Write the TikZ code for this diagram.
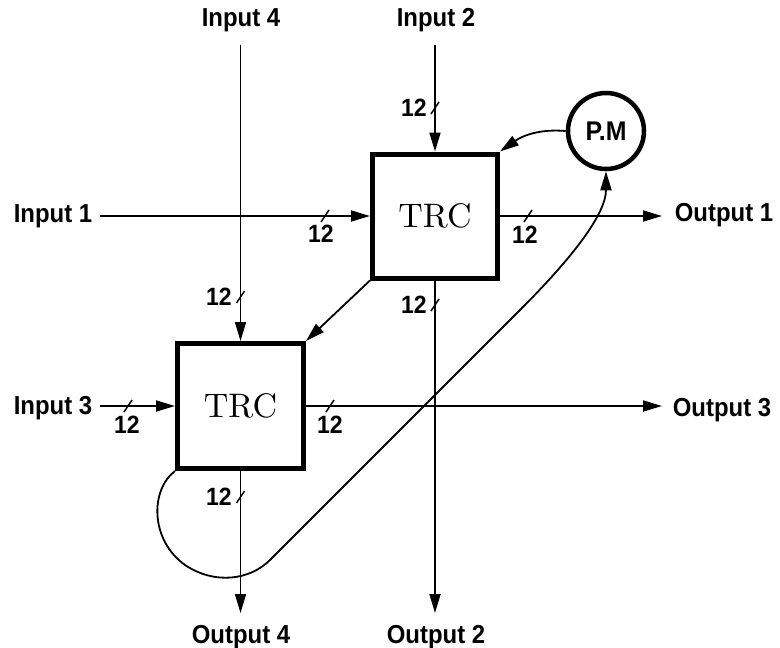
\documentclass[tikz,border=0pt]{standalone}
\usepackage{fontspec}
\newfontfamily\labfont[FakeStretch=0.92]{Liberation Sans}
\newfontfamily\trcfont{lmroman10-regular.otf}
\usetikzlibrary{arrows.meta}
\begin{document}
\begin{tikzpicture}[x=1pt,y=-1pt,
  wire/.style={line width=1.8pt},
  arr/.style={wire,-{Triangle[length=19pt,width=11pt]}},
  trc/.style={draw,line width=5pt,minimum width=125pt,minimum height=124pt,inner sep=0pt,font=\trcfont\fontsize{34}{38}\selectfont},
  pmnode/.style={draw,circle,line width=4.5pt,minimum size=76pt,inner sep=0pt,font=\labfont\bfseries\fontsize{27}{30}\selectfont},
  lbl/.style={font=\labfont\bfseries\fontsize{26}{30}\selectfont,anchor=base,inner sep=0pt},
  num/.style={font=\labfont\bfseries\fontsize{25}{28}\selectfont,inner sep=0pt},
  tk/.pic={\draw[line width=1.4pt] (-4,6) -- (4,-6);}
]
\useasboundingbox (0,0) rectangle (780,648);

% boxes
\node[trc] (b1) at (435,216) {TRC};
\node[trc,minimum width=126pt,minimum height=125pt] (b2) at (240.5,406) {TRC};
\node[pmnode] (pm) at (606,131) {P.M};

% labels
\node[lbl] (in4) at (241,26) {Input 4};
\node[lbl] (in2) at (436,26) {Input 2};
\node[lbl] (in1) at (53,222) {Input 1};
\node[lbl] (in3) at (53,414) {Input 3};
\node[lbl] (out1) at (724,221) {Output 1};
\node[lbl] (out3) at (722,416) {Output 3};
\node[lbl] (out4) at (241,643) {Output 4};
\node[lbl] (out2) at (436,643) {Output 2};

% free ends
\coordinate (s4) at (240.5,45);
\coordinate (s2) at (435,45);
\coordinate (s1) at (100,216);
\coordinate (s3) at (100,406);
\coordinate (e1) at (662,216);
\coordinate (e3) at (662,406);
\coordinate (e4) at (240.5,613);
\coordinate (e2) at (435,613);

% connectors
\draw[arr] (s4) -- (b2.north);
\draw[arr] (s2) -- (b1.north);
\draw[arr] (s1) -- (b1.west);
\draw[arr] (s3) -- (b2.west);
\draw[arr] (b1.east) -- (e1);
\draw[arr] (b2.east) -- (e3);
\draw[arr] (b2.south) -- (e4);
\draw[arr] (b1.south) -- (e2);
\draw[arr] (b1.south west) -- (b2.north east);
\draw[arr] (pm.west) to[out=175,in=35] (b1.north east);
\draw[arr] (b2.south west) .. controls (150,490) and (150,540) .. (185,565)
  .. controls (215,585) and (250,580) .. (270,560) -- (520,310)
  .. controls (570,260) and (606,215) .. (pm.south);

% bus width ticks
\pic at (435,108) {tk};
\node[num] (n2) at (414,108) {12};
\pic at (240.5,297) {tk};
\node[num] (n4) at (219,297) {12};
\pic at (240.5,497) {tk};
\node[num] (n4o) at (219,497) {12};
\pic at (435,305) {tk};
\node[num] (n2o) at (414,305) {12};
\pic at (325,216) {tk};
\node[num] (n1) at (321,234) {12};
\pic at (528,216) {tk};
\node[num] (n1o) at (525,235) {12};
\pic at (128,406) {tk};
\node[num] (n3) at (127,425) {12};
\pic at (330,406) {tk};
\node[num] (n3o) at (330,425) {12};
\end{tikzpicture}
\end{document}
